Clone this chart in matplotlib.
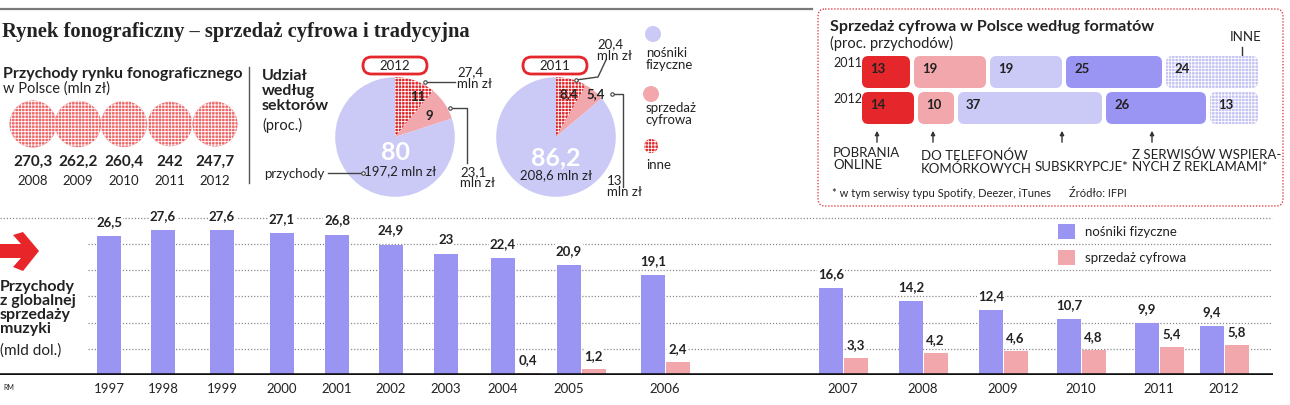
import matplotlib.pyplot as plt
from matplotlib.patches import FancyBboxPatch, Rectangle, Polygon, Circle

plt.rcParams['font.family'] = ['Lato', 'DejaVu Sans']
plt.rcParams['hatch.linewidth'] = 0.6

W, H = 1290, 406

# dane: przychody w Polsce (mln zł)
pl_years = ['2008', '2009', '2010', '2011', '2012']
pl_revenue = [270.3, 262.2, 260.4, 242, 247.7]

# udział według sektorów (proc.)
pie_labels = ['inne', 'sprzedaż cyfrowa', 'nośniki fizyczne']
pie_2012 = [11, 9, 80]
pie_2011 = [8.4, 5.4, 86.2]
pie_mln_2012 = [27.4, 23.1, 197.2]
pie_mln_2011 = [20.4, 13, 208.6]

# sprzedaż cyfrowa według formatów (proc.)
fmt_years = ['2011', '2012']
fmt_names = ['POBRANIA\nONLINE', 'DO TELEFONÓW\nKOMÓRKOWYCH', 'SUBSKRYPCJE*',
             'Z SERWISÓW WSPIERA-\nNYCH Z REKLAMAMI*', 'INNE']
fmt_2011 = [13, 19, 19, 25, 24]
fmt_2012 = [14, 10, 37, 26, 13]

# globalna sprzedaż muzyki (mld dol.)
years = [str(y) for y in range(1997, 2013)]
physical = [26.5, 27.6, 27.6, 27.1, 26.8, 24.9, 23, 22.4, 20.9, 19.1,
            16.6, 14.2, 12.4, 10.7, 9.9, 9.4]
digital = [None, None, None, None, None, None, None, 0.4, 1.2, 2.4,
           3.3, 4.2, 4.6, 4.8, 5.4, 5.8]

# uklad (piksele)
bar_x = [109, 163, 222, 282, 337, 391, 446, 503, 569, 653,
         831, 911, 991, 1069, 1147, 1212]
circ_x = [33, 78, 124, 170, 215]

RED = '#E5262A'
PINK = '#F2A7AC'
LAV = '#CBCAF7'
PURPLE = '#9A94F2'
DARK = '#222222'
CIRC_FC = '#EE6668'
INNE_FC = '#DF2529'
DOTS = '+++++'


def fmt(v):
    return f"{v:g}".replace('.', ',')


def dotted(p, face):
    # kropkowana faktura: kolor tla + biala siatka
    p.set_facecolor(face)
    p.set_hatch(DOTS)
    p.set_edgecolor('white')
    p.set_linewidth(0)
    return p


fig = plt.figure(figsize=(W / 100, H / 100), dpi=100)


def px_axes(x0, y0, x1, y1):
    a = fig.add_axes([x0 / W, 1 - y1 / H, (x1 - x0) / W, (y1 - y0) / H])
    a.patch.set_visible(False)
    return a


# --- wykres slupkowy na dole ---
ppu = 5.24
axb = px_axes(0, 210, W, 376)
axb.set_xlim(0, W)
axb.set_ylim(0, 166 / ppu)
axb.axis('off')
axb.hlines([5, 10, 15, 20, 25], 88, 1272, colors='#8a8a8a', linestyles=(0, (1, 1.5)), lw=0.9)
axb.hlines(30, 0, 1272, colors='#8a8a8a', linestyles=(0, (1, 1.5)), lw=0.9)
axb.bar(bar_x, physical, width=24, color=PURPLE, zorder=2)
dig_x = [x + 24.5 for x, d in zip(bar_x, digital) if d is not None]
dig_v = [d for d in digital if d is not None]
axb.bar(dig_x, dig_v, width=24, color=PINK, zorder=2)
axb.hlines(0, 0, 1273, colors='#111111', lw=2.6, zorder=3)
box = dict(fc='white', ec='none', pad=0.6)
for x, v in zip(bar_x, physical):
    axb.text(x, v + 15 / ppu, fmt(v), ha='center', va='center', fontsize=9.5,
             weight='bold', color=DARK, bbox=box, zorder=4)
for x, v in zip(dig_x, dig_v):
    axb.text(x, v + 14 / ppu, fmt(v), ha='center', va='center', fontsize=9.5,
             weight='bold', color=DARK, bbox=box, zorder=4)
for i, (x, y) in enumerate(zip(bar_x, years)):
    lx = x + 12 if digital[i] is not None and digital[i] >= 2 else x
    axb.text(lx, -13 / ppu, y, ha='center', va='center', fontsize=9.5,
             color=DARK, clip_on=False)

# --- wykresy kolowe ---
pie_cols = [INNE_FC, PINK, LAV]
for vals, cx in [(pie_2012, 395), (pie_2011, 556)]:
    ax = px_axes(cx - 61, 138 - 61, cx + 61, 138 + 61)
    wedges, _ = ax.pie(vals, startangle=90, counterclock=False, colors=pie_cols,
                       wedgeprops=dict(lw=0))
    dotted(wedges[0], INNE_FC)
    ax.set_xlim(-1.02, 1.02)
    ax.set_ylim(-1.02, 1.02)

# --- warstwa tekstow i dekoracji ---
ov = px_axes(0, 0, W, H)
ov.set_xlim(0, W)
ov.set_ylim(H, 0)
ov.axis('off')


def t(x, y, s, size=9, weight='normal', ha='left', va='center', color=DARK, **kw):
    ov.text(x, y, s, fontsize=size, weight=weight, ha=ha, va=va, color=color, **kw)


ov.plot([0, 812], [10, 10], color='#7a7a7a', lw=1.6)
t(2, 32, 'Rynek fonograficzny – sprzedaż cyfrowa i tradycyjna', size=14.8,
  weight='bold', family='Liberation Serif')

# przychody w Polsce
t(3, 74, 'Przychody rynku fonograficznego', size=11.5, weight='bold')
t(3, 89, 'w Polsce (mln zł)', size=10.5)
rmax = max(pl_revenue)
for x, v, y in zip(circ_x, pl_revenue, pl_years):
    ov.add_patch(dotted(Circle((x, 125), 23.5 * (v / rmax) ** 0.5), CIRC_FC))
    t(x, 162, fmt(v), size=11, weight='bold', ha='center')
    t(x, 181, y, size=9.5, ha='center')
ov.plot([249, 249], [68, 184], color='#555', lw=1)

# udział według sektorów
t(262, 91, 'Udział\nwedług\nsektorów', size=11.5, weight='bold', linespacing=1.1)
t(262, 125, '(proc.)', size=10.5)
for cx, yr in [(395, '2012'), (555, '2011')]:
    ov.add_patch(FancyBboxPatch((363 + cx - 395, 58), 64, 17,
                                boxstyle='round,pad=0,rounding_size=8.5',
                                fc='white', ec=RED, lw=2))
    t(cx, 66.5, yr, size=9.5, ha='center')

t(410, 97, fmt(pie_2012[0]), size=9.5, weight='bold')
t(429, 116, fmt(pie_2012[1]), size=9.5, weight='bold', ha='center')
t(396, 153, fmt(pie_2012[2]), size=18, weight='bold', ha='center', color='white')
t(400, 171, fmt(pie_mln_2012[2]) + ' mln zł', size=9.5, ha='center')
t(569, 94, fmt(pie_2011[0]), size=9.5, weight='bold', ha='center')
t(596, 94, fmt(pie_2011[1]), size=9.5, weight='bold', ha='center')
t(556, 158, fmt(pie_2011[2]), size=18, weight='bold', ha='center', color='white')
t(556, 175, fmt(pie_mln_2011[2]) + ' mln zł', size=9.5, ha='center')

lc = '#444'
t(457, 78, fmt(pie_mln_2012[0]) + '\nmln zł', size=9.5, linespacing=0.9)
ov.plot([455, 425], [83, 83], color=lc, lw=1)
ov.plot([425], [83], 'o', ms=2.5, mfc='white', mec=lc, mew=0.8)
ov.plot([450, 467, 467], [109, 109, 164], color=lc, lw=1)
ov.plot([450], [109], 'o', ms=2.5, mfc='white', mec=lc, mew=0.8)
t(460, 178, fmt(pie_mln_2012[1]) + '\nmln zł', size=9.5, linespacing=0.9)
t(264, 174, 'przychody', size=9.5)
ov.plot([328, 363], [174, 174], color=lc, lw=1)
ov.plot([363], [174], 'o', ms=2.5, mfc='white', mec=lc, mew=0.8)

t(597, 50, fmt(pie_mln_2011[0]) + '\nmln zł', size=9.5, linespacing=0.9)
ov.plot([606, 598, 576], [61, 78, 81], color=lc, lw=1)
ov.plot([576], [81], 'o', ms=2.5, mfc='white', mec=lc, mew=0.8)
ov.plot([612, 623, 623], [95, 95, 188], color=lc, lw=1)
ov.plot([612], [95], 'o', ms=2.5, mfc='white', mec=lc, mew=0.8)
t(607, 187, fmt(pie_mln_2011[1]) + '\nmln zł', size=9.5, linespacing=0.9)

# legenda kol
ov.add_patch(Circle((653, 35), 8, fc=LAV, lw=0))
t(646, 59, 'nośniki\nfizyczne', size=9.5, linespacing=0.95)
ov.add_patch(Circle((651, 95), 8, fc=PINK, lw=0))
t(646, 114, 'sprzedaż\ncyfrowa', size=9.5, linespacing=0.95)
ov.add_patch(dotted(Circle((651, 147), 7), INNE_FC))
t(646, 165, 'inne', size=9.5)

# --- sprzedaż cyfrowa według formatów ---
ov.add_patch(FancyBboxPatch((818, 10), 465, 197, boxstyle='round,pad=0,rounding_size=7',
                            fill=False, ec='#E0474C', ls=(0, (1, 1.2)), lw=1))
t(830, 27, 'Sprzedaż cyfrowa w Polsce według formatów', size=11.5, weight='bold')
t(830, 43, '(proc. przychodów)', size=10.5)

axf = px_axes(862, 50, 1262, 130)
axf.set_xlim(0, 100)
axf.set_ylim(130, 50)
axf.axis('off')
fmt_cols = [RED, PINK, LAV, PURPLE, '#C4C2F4']
for row, (yr, vals, y0) in enumerate(zip(fmt_years, [fmt_2011, fmt_2012], [57, 93])):
    left = 0
    for i, v in enumerate(vals):
        p = FancyBboxPatch((left, y0), v - 1, 32, boxstyle='round,pad=0,rounding_size=1.6',
                           mutation_aspect=4, fc=fmt_cols[i], lw=0)
        if i == 4:
            dotted(p, fmt_cols[i])
        axf.add_patch(p)
        axf.text(left + 2, y0 + 12, fmt(v), fontsize=9.5, weight='bold', color=DARK,
                 va='center')
        left += v
    t(833, y0 + 6, yr, size=9)

for x in [877, 933, 1062, 1152]:
    ov.annotate('', xy=(x, 129), xytext=(x, 146),
                arrowprops=dict(arrowstyle='-|>', color='#333', lw=1, mutation_scale=6))
t(1230, 37, fmt_names[4], size=9.5)
ov.plot([1242, 1242], [48, 56], color='#333', lw=1)
t(833, 159, fmt_names[0], size=9.5, linespacing=1.05)
t(921, 162, fmt_names[1], size=9.5, linespacing=1.05)
t(1035, 167, fmt_names[2], size=9.5)
t(1132, 161, fmt_names[3], size=9.5, linespacing=1.05)
t(832, 194, '* w tym serwisy typu Spotify, Deezer, iTunes', size=8)
t(1069, 194, 'Źródło: IFPI', size=8)

# --- dolny wykres: opisy ---
ov.add_patch(Polygon([(0, 245), (21, 245), (13, 236), (23, 233), (39, 252),
                      (23, 272), (13, 268), (21, 259), (0, 259)], closed=True,
                     fc='#E8262A', lw=0))
t(0, 308, 'Przychody\nz globalnej\nsprzedaży\nmuzyki', size=11.5, weight='bold',
  linespacing=1.0)
t(0, 351, '(mld dol.)', size=11)
t(3, 388, 'RM', size=5)
ov.add_patch(Rectangle((1058, 225), 17, 15, fc=PURPLE, lw=0))
t(1085, 232, pie_labels[2], size=9.5)
ov.add_patch(Rectangle((1058, 251), 17, 15, fc=PINK, lw=0))
t(1085, 258, pie_labels[1], size=9.5)

fig.savefig('out.png', dpi=100)
